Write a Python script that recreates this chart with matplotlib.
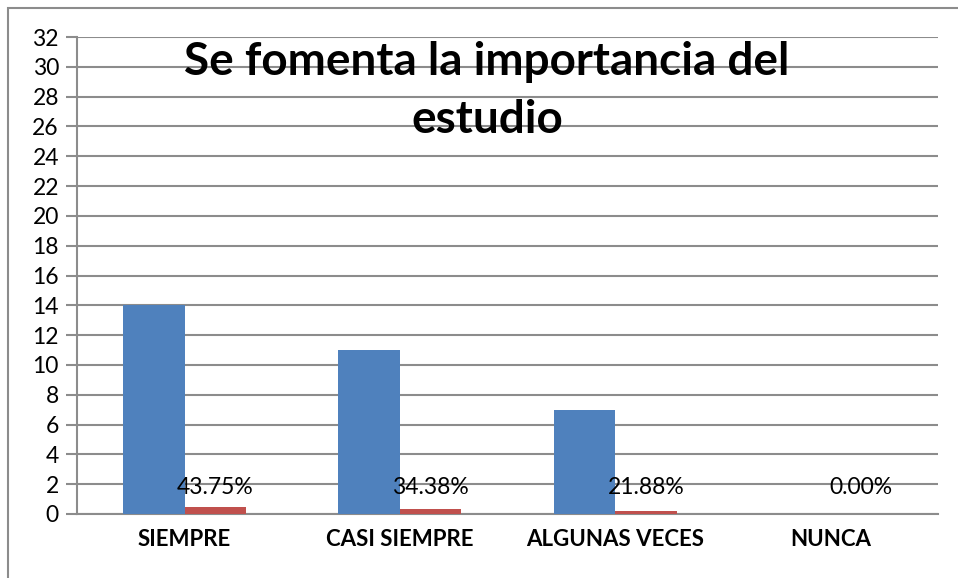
import matplotlib
matplotlib.use("Agg")
import matplotlib.pyplot as plt
from matplotlib.patches import Rectangle
import numpy as np

plt.rcParams['font.family'] = ['Lato', 'DejaVu Sans']

categories = ["SIEMPRE", "CASI SIEMPRE", "ALGUNAS VECES", "NUNCA"]
counts = [14, 11, 7, 0]
shares = [0.4375, 0.3438, 0.2188, 0.0]
title = "Se fomenta la importancia del\nestudio"

blue = "#4F81BD"
red = "#C0504D"
grid_c = "#8C8C8C"

fig = plt.figure(figsize=(9.58, 5.78), dpi=100)
ax = fig.add_axes([77 / 958, 1 - 514 / 578, (938 - 77) / 958, (514 - 37) / 578])

x = np.arange(len(categories))
w = 1 / 3.5
ax.bar(x - w / 2, counts, width=w, color=blue, zorder=3)
ax.bar(x + w / 2, shares, width=w, color=red, zorder=3)

# percentage labels sit at a fixed height just above the axis
for xi, s in zip(x, shares):
    ax.text(xi + w / 2, 1.75, f"{s * 100:.2f}%", ha="center", va="center",
            fontsize=16.5, color="black", zorder=4)

ax.set_xlim(-0.5, len(categories) - 0.5)
ax.set_ylim(0, 32)
ax.set_yticks(range(0, 33, 2))
ax.set_xticks(x)
ax.set_xticklabels(categories, fontsize=16, fontweight="bold")
ax.tick_params(axis="x", length=0, pad=11)
ax.tick_params(axis="y", labelsize=16.5, length=8, width=1.5, color=grid_c, pad=5)

ax.yaxis.grid(True, color=grid_c, linewidth=1.5, zorder=0)
for side in ["top", "right"]:
    ax.spines[side].set_visible(False)
ax.spines["left"].set_color(grid_c)
ax.spines["left"].set_linewidth(1.5)
ax.spines["bottom"].set_color(grid_c)
ax.spines["bottom"].set_linewidth(1.5)

fig.text(487 / 958, 1 - 91 / 578, title, ha="center", va="center",
         fontsize=33, fontweight="bold", linespacing=1.45)

# outer chart border
fig.patches.append(Rectangle((8 / 958, -0.1), 1.2, 1.1 - 8 / 578,
                             transform=fig.transFigure, fill=False,
                             edgecolor=grid_c, linewidth=1.5))

fig.savefig("out.png", dpi=100)
